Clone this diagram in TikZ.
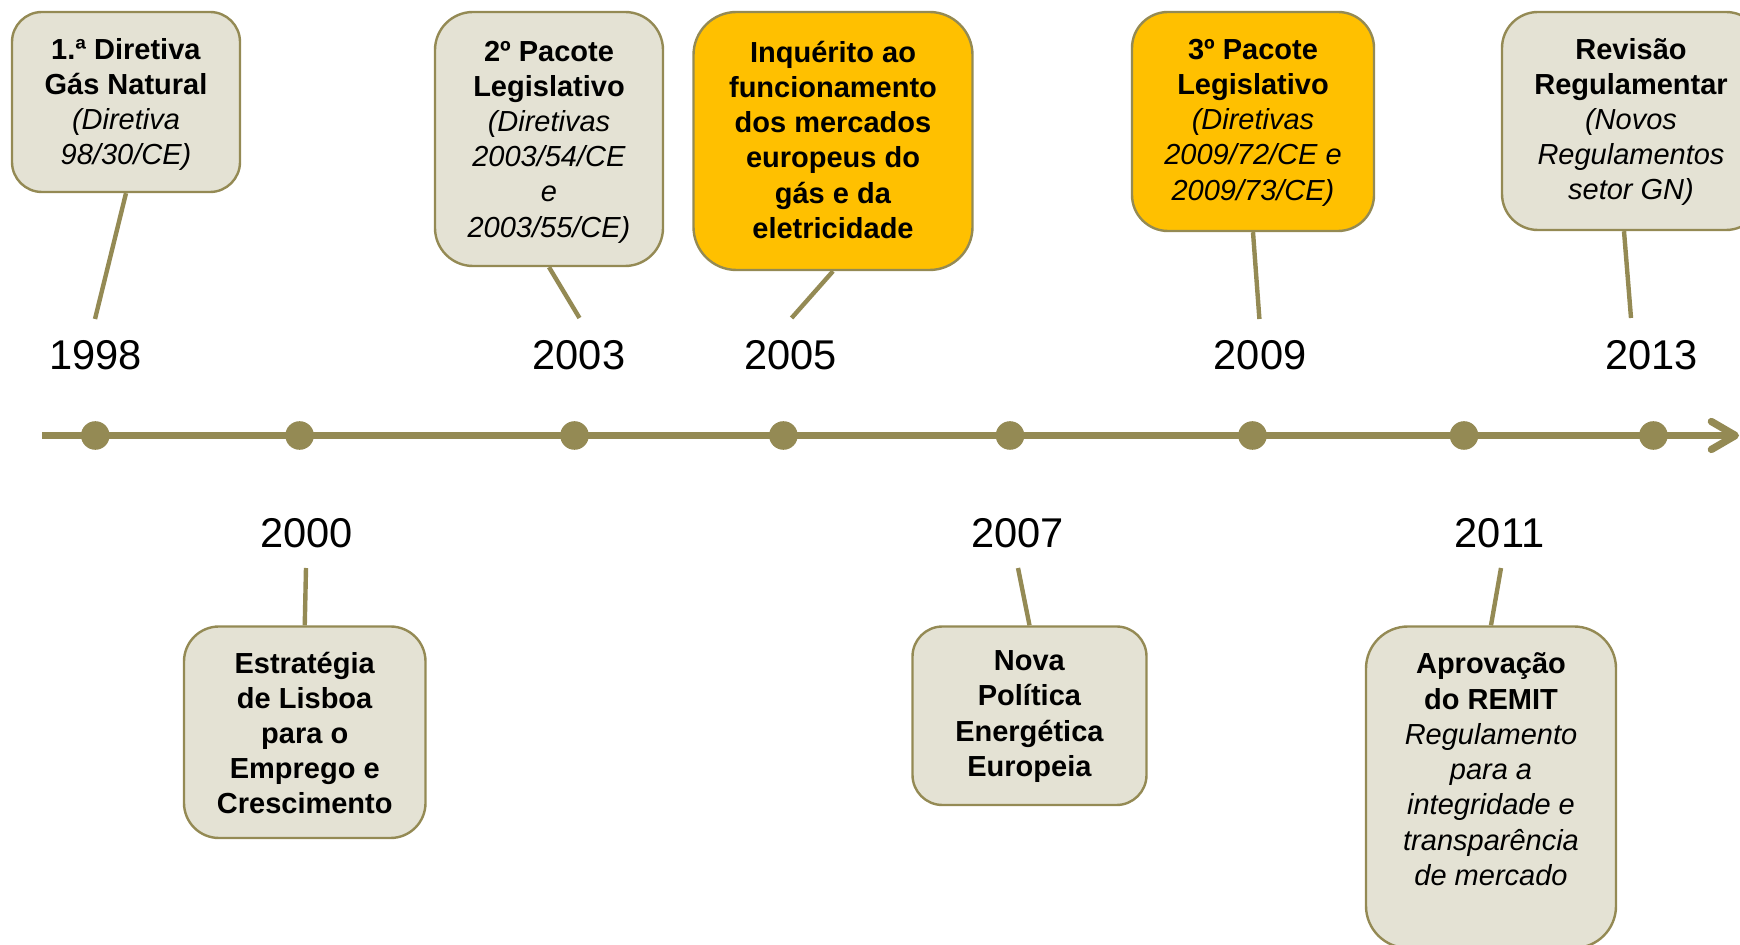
\documentclass[tikz,border=0pt]{standalone}
\usepackage{fontspec}
\setmainfont{Liberation Sans}
\usetikzlibrary{arrows.meta}
\definecolor{olive}{HTML}{948A54}
\definecolor{boxfill}{HTML}{E4E2D4}
\definecolor{gold}{HTML}{FFC000}
\tikzset{
  boxtext/.style={align=center, inner sep=0pt, anchor=north, font=\fontsize{14.5}{17.6}\selectfont},
  evbox/.style={draw=olive, line width=1.2pt, fill=boxfill, inner sep=0pt},
  hotbox/.style={evbox, fill=gold},
  yearlbl/.style={font=\fontsize{20.8}{25}\selectfont, anchor=base, inner sep=0pt},
  leader/.style={draw=olive, line width=2.2pt},
  dotmark/.style={circle, fill=olive, minimum size=14.3pt, inner sep=0pt},
  axisline/.style={draw=olive, line width=3.65pt, -{Straight Barb[length=12pt, width=14pt, round]}}
}
\begin{document}
\begin{tikzpicture}[x=0.5pt,y=-0.5pt]
\useasboundingbox (0,0) rectangle (1740,945);
\clip (0,0) rectangle (1740,945);
% axis
\coordinate (aL) at (42,435.5);
\coordinate (aR) at (1739,435.5);
\draw[axisline] (aL) -- (aR);
\foreach \n/\x in {d98/95.3, d00/299.6, d03/574.5, d05/783.4, d07/1010, d09/1252.5, d11/1464, d13/1653.4}
  \node[dotmark] (\n) at (\x,435.5) {};
% years
\node[yearlbl] (y98) at (95.5,370) {1998};
\node[yearlbl] (y03) at (579,370) {2003};
\node[yearlbl] (y05) at (790.5,370) {2005};
\node[yearlbl] (y09) at (1260,370) {2009};
\node[yearlbl] (y13) at (1651.5,370) {2013};
\node[yearlbl] (y00) at (306.5,548) {2000};
\node[yearlbl] (y07) at (1017.5,548) {2007};
\node[yearlbl] (y11) at (1499.5,548) {2011};
% boxes
\node[evbox, minimum width=114pt, minimum height=90pt, rounded corners=15pt] (b98) at (126,102) {};
\node[evbox, minimum width=114pt, minimum height=127pt, rounded corners=19pt] (b03) at (549,139) {};
\node[hotbox, minimum width=139.5pt, minimum height=129pt, rounded corners=21.5pt] (b05) at (833,141) {};
\node[hotbox, minimum width=121pt, minimum height=109.5pt, rounded corners=18pt] (b09) at (1253,121.5) {};
\node[evbox, minimum width=130pt, minimum height=109pt, rounded corners=18pt] (b13) at (1632,121) {};
\node[evbox, minimum width=120.75pt, minimum height=105.75pt, rounded corners=17.5pt] (b00) at (304.75,732.25) {};
\node[evbox, minimum width=117pt, minimum height=89.25pt, rounded corners=15pt] (b07) at (1029.5,715.75) {};
\node[evbox, minimum width=125pt, minimum height=160.75pt, rounded corners=21pt] (b11) at (1491,787.25) {};
% box texts
\node[boxtext] (t98) at (126,37.7)
  {\textbf{1.ª Diretiva}\\\textbf{Gás Natural}\\\textit{(Diretiva}\\\textit{98/30/CE)}};
\node[boxtext] (t03) at (549,40.5)
  {\textbf{2º Pacote}\\\textbf{Legislativo}\\\textit{(Diretivas}\\\textit{2003/54/CE}\\\textit{e}\\\textit{2003/55/CE)}};
\node[boxtext] (t05) at (833,40.7)
  {\textbf{Inquérito ao}\\\textbf{funcionamento}\\\textbf{dos mercados}\\\textbf{europeus do}\\\textbf{gás e da}\\\textbf{eletricidade}};
\node[boxtext] (t09) at (1253,38.7)
  {\textbf{3º Pacote}\\\textbf{Legislativo}\\\textit{(Diretivas}\\\textit{2009/72/CE e}\\\textit{2009/73/CE)}};
\node[boxtext] (t13) at (1631,37.7)
  {\textbf{Revisão}\\\textbf{Regulamentar}\\\textit{(Novos}\\\textit{Regulamentos}\\\textit{setor GN)}};
\node[boxtext] (t00) at (304.75,651.4)
  {\textbf{Estratégia}\\\textbf{de Lisboa}\\\textbf{para o}\\\textbf{Emprego e}\\\textbf{Crescimento}};
\node[boxtext] (t07) at (1029.5,650.4)
  {\textbf{Nova}\\\textbf{Política}\\\textbf{Energética}\\\textbf{Europeia}};
\node[boxtext] (t11) at (1491,652.7)
  {\textbf{Aprovação}\\\textbf{do REMIT}\\\textit{Regulamento}\\\textit{para a}\\\textit{integridade e}\\\textit{transparência}\\\textit{de mercado}};
% connector ends
\coordinate (e98) at (95,319);
\coordinate (e03) at (579.5,318);
\coordinate (e05) at (791.6,318);
\coordinate (e09) at (1259.4,319);
\coordinate (e13) at (1631,318);
\coordinate (e00) at (306,568);
\coordinate (e07) at (1018,568);
\coordinate (e11) at (1501,568);
\draw[leader] (b98.south) -- (e98);
\draw[leader] (b03.south) -- (e03);
\draw[leader] (b05.south) -- (e05);
\draw[leader] (b09.south) -- (e09);
\draw[leader] ([xshift=-4pt]b13.south) -- (e13);
\draw[leader] (b00.north) -- (e00);
\draw[leader] (b07.north) -- (e07);
\draw[leader] (b11.north) -- (e11);
\end{tikzpicture}
\end{document}
